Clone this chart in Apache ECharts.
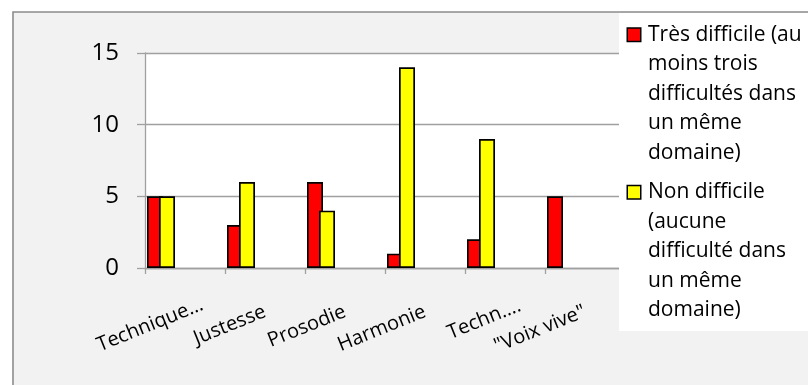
<!DOCTYPE html>
<html>
<head>
<meta charset="utf-8">
<script src="https://cdn.jsdelivr.net/npm/echarts@6/dist/echarts.min.js"></script>
<style>
html,body{margin:0;padding:0;background:#fff;}
#chart{width:808px;height:385px;}
</style>
</head>
<body>
<div id="chart"></div>
<script>
// Data
var categories = ['Technique…', 'Justesse', 'Prosodie', 'Harmonie', 'Techn….', '"Voix vive"'];
var seriesNames = ['Très difficile (au moins trois difficultés dans un même domaine)', 'Non difficile (aucune difficulté dans un même domaine)'];
var tresDifficile = [5, 3, 6, 1, 2, 5];
var nonDifficile = [5, 6, 4, 14, 9, null];
var yTicks = [0, 5, 10, 15];
var legendLines = [
  ['Très difficile (au', 'moins trois', 'difficultés dans', 'un même', 'domaine)'],
  ['Non difficile', '(aucune', 'difficulté dans', 'un même', 'domaine)']
];

var FONT = '"Open Sans", sans-serif';
var GRID = '#a0a0a0';
var chart = echarts.init(document.getElementById('chart'), null, {renderer: 'canvas'});

function barSeries(name, data, color) {
  return {
    name: name, type: 'bar', data: data,
    barWidth: 16, barGap: '-25%',
    itemStyle: {color: color, borderColor: '#000', borderWidth: 1.7},
    emphasis: {disabled: true}
  };
}
var series = [
  barSeries(seriesNames[0], tresDifficile, '#ff0000'),
  barSeries(seriesNames[1], nonDifficile, '#ffff00')
];
// empty slots (unused series positions in the original workbook)
for (var k = 0; k < 4; k++) {
  series.push(barSeries('empty' + k, categories.map(function () { return null; }), '#ffffff'));
}

chart.setOption({
  animation: false,
  backgroundColor: '#ffffff',
  textStyle: {fontFamily: FONT},
  graphic: [{
    type: 'rect', z: -10, silent: true,
    shape: {x: 13, y: 12, width: 900, height: 500},
    style: {fill: '#f2f2f2', stroke: '#8c8c8c', lineWidth: 1.6}
  }],
  grid: {
    left: 145, top: 53, right: 183, bottom: 117,
    show: true, backgroundColor: '#ffffff', borderWidth: 0, containLabel: false
  },
  legend: {
    data: seriesNames,
    orient: 'vertical',
    left: 619, top: 13,
    padding: [7, 40, 6, 4],
    itemGap: 10,
    itemWidth: 0, itemHeight: 0,
    icon: 'none',
    backgroundColor: '#ffffff',
    z: 20,
    selectedMode: false,
    textStyle: {
      fontFamily: FONT, fontSize: 21, color: '#000', lineHeight: 29.5,
      rich: {
        b0: {width: 12, height: 12, backgroundColor: '#ff0000', borderColor: '#000', borderWidth: 1.5, lineHeight: 29.5},
        b1: {width: 12, height: 12, backgroundColor: '#ffff00', borderColor: '#000', borderWidth: 1.5, lineHeight: 29.5},
        g: {width: 8, lineHeight: 29.5},
        ind: {width: 20, lineHeight: 29.5}
      }
    },
    formatter: function (name) {
      var idx = seriesNames.indexOf(name);
      var lines = legendLines[idx];
      var out = '{b' + idx + '|}{g|}' + lines[0];
      for (var i = 1; i < lines.length; i++) out += '\n{ind|}' + lines[i];
      return out;
    }
  },
  xAxis: {
    type: 'category',
    data: categories,
    axisLine: {show: true, lineStyle: {color: GRID, width: 1.3}},
    axisTick: {show: true, length: 6, lineStyle: {color: GRID, width: 1.3}},
    axisLabel: {
      rotate: 22, margin: 43, interval: 0,
      fontFamily: FONT, fontSize: 20, color: '#000',
      formatter: function (v) {
        if (v.indexOf('…') >= 0) return '{t' + (v.length > 7 ? 'a' : 'b') + '|' + v + '}';
        return v;
      },
      rich: {
        ta: {fontFamily: FONT, fontSize: 20, color: '#000', width: 94, align: 'left'},
        tb: {fontFamily: FONT, fontSize: 20, color: '#000', width: 61, align: 'left'}
      }
    }
  },
  yAxis: {
    type: 'value',
    min: 0, max: 15, interval: 5,
    axisLine: {show: true, lineStyle: {color: GRID, width: 1.3}},
    axisTick: {show: true, length: 8, lineStyle: {color: GRID, width: 1.3}},
    splitLine: {show: true, lineStyle: {color: GRID, width: 1.3}},
    axisLabel: {
      margin: 26, fontFamily: FONT, fontSize: 24, color: '#000',
      formatter: function (v) { return yTicks.indexOf(v) >= 0 ? String(v) : ''; }
    }
  },
  series: series
});
</script>
</body>
</html>
